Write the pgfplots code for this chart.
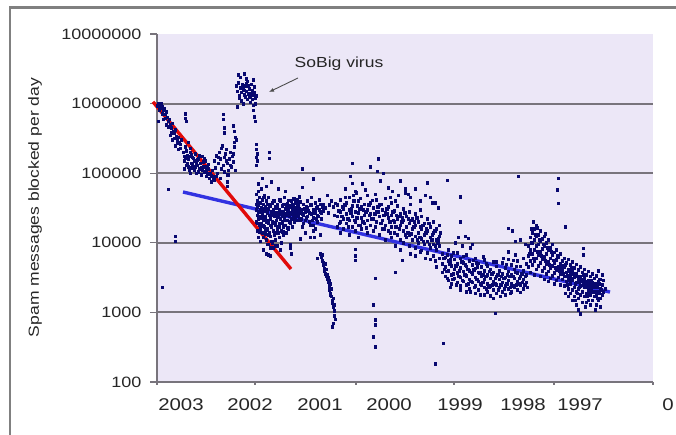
\documentclass[border=0pt]{standalone}
\usepackage{pgfplots}
\pgfplotsset{compat=1.18}
\usetikzlibrary{arrows.meta}
\usepackage{fontspec}
\setmainfont{Liberation Sans}[FakeStretch=1.2]
\definecolor{bgcol}{RGB}{236,231,247}
\definecolor{dotcol}{RGB}{8,8,112}
\definecolor{gridcol}{RGB}{120,116,124}
\definecolor{redline}{RGB}{225,10,10}
\definecolor{blueline}{RGB}{50,50,225}
\begin{document}
\begin{tikzpicture}[x=1pt,y=1pt]
\useasboundingbox (0,0) rectangle (676,434);
\draw[gray, line width=2.2pt] (10,-10) -- (10,426.5) -- (690,426.5);
\begin{axis}[
  at={(157pt,52pt)}, anchor=south west,
  scale only axis, width=496pt, height=348pt,
  clip=false,
  xmin=157, xmax=653,
  ymode=log, ymin=100, ymax=10000000,
  axis background/.style={fill=bgcol},
  axis x line*=bottom, axis y line*=left,
  axis line style={gridcol, line width=1.6pt},
  xtick=\empty,
  extra x ticks={157,255,356,454,554,653}, extra x tick labels={},
  extra x tick style={major tick length=3pt, tick style={gridcol, line width=1.2pt}},
  ytick={100,1000,10000,100000,1000000,10000000},
  yticklabels={100,1000,10000,100000,1000000,10000000},
  y tick style={gridcol, line width=1.2pt},
  major tick length=7pt,
  tick align=outside,
  yminorticks=false, xminorticks=false,
  extra y ticks={1000,10000,100000,1000000},
  extra y tick labels={},
  extra y tick style={grid=major, major tick length=0pt, major grid style={gridcol, line width=2pt}},
  yticklabel style={font=\fontsize{15}{15}\selectfont, text=black!85, xshift=-5pt},
  /pgf/number format/assume math mode=true,
]
% --- scatter data (x: position along the time axis, y: spam messages blocked per day)
\pgfplotsset{dots/.style={only marks, mark=square*, mark size=1.3pt, color=dotcol}}
\addplot[dots] coordinates {
(158,1000000) (159,950000) (160,880000) (161,1000000) (162,900000) (163,800000) (164,850000) (165,700000) (166,760000) (167,640000) (168,560000) (169,600000) (170,500000) (171,450000) (172,520000) (173,400000) (174,380000) (175,420000) (176,340000) (177,300000) (178,330000) (179,280000) (180,260000) (181,300000) (158,560000) (163,600000) (166,500000) (170,350000) (172,300000) (175,250000) (178,220000) (157,930000) (159,820000) (162,720000) (165,620000) (168,470000) (171,380000) (174,320000) (177,270000) (180,230000)
(183,200000) (184,150000) (185,240000) (186,130000) (187,180000) (188,160000) (189,110000) (190,200000) (191,140000) (192,170000) (193,120000) (194,150000) (195,190000) (196,100000) (197,130000) (198,160000) (199,115000) (200,140000) (201,95000) (202,175000) (203,125000) (204,105000) (205,150000) (206,90000) (207,120000) (208,135000) (209,85000) (210,100000) (211,75000) (212,110000) (213,80000) (186,210000) (189,175000) (192,135000) (195,125000) (198,105000) (201,120000) (204,160000) (207,100000) (185,165000) (188,125000) (191,185000) (194,110000) (197,155000) (200,118000) (203,145000) (206,112000) (209,98000) (185,720000) (185,620000) (186,560000) (188,280000) (190,230000)
(184,175000) (187,140000) (190,120000) (193,165000) (196,140000) (199,180000) (202,110000) (205,125000) (208,115000) (211,92000) (184,115000) (190,100000)
(214,150000) (215,120000) (216,180000) (217,100000) (218,140000) (219,200000) (220,160000) (221,115000) (222,250000) (223,130000) (224,170000) (225,190000) (226,220000) (227,140000) (228,110000) (229,160000) (230,200000) (231,125000) (232,175000) (233,145000) (234,240000) (235,110000) (216,90000) (220,85000) (224,105000) (228,95000) (218,170000) (221,230000) (226,150000) (230,130000) (233,190000) (223,700000) (223,600000) (224,450000) (224,380000) (233,480000) (234,400000) (235,330000) (236,300000) (234,280000) (213,90000) (214,80000) (227,95000) (227,75000) (227,65000)
(238,2600000) (240,2400000) (244,2700000) (246,2300000) (236,1800000) (237,1500000) (238,2000000) (239,1300000) (240,1700000) (241,1450000) (242,1900000) (243,1600000) (244,1350000) (245,1800000) (246,1500000) (247,2100000) (248,1400000) (249,1650000) (250,1250000) (251,1900000) (252,1550000) (253,1350000) (254,1750000) (255,1200000) (241,1100000) (243,1000000) (247,1150000) (250,1050000) (253,950000) (239,1200000) (245,1250000) (248,1800000) (251,1400000) (237,900000) (242,1700000) (244,1550000) (246,1950000) (249,1300000) (252,1150000) (254,1450000) (255,1000000) (253,2200000) (256,1300000) (253,800000) (254,650000) (255,560000)
(256,260000) (256,220000) (257,190000) (256,170000) (257,150000) (256,130000) (269,200000) (269,165000)
(168,59000) (175,12500) (175,10500) (162,2300) (268,6700)
};
\addplot[dots] coordinates {
(256,50000) (256,30000) (256,20000) (257,40000) (257,25000) (257,15000) (258,55000) (258,35000) (258,22000) (258,12000) (259,45000) (259,28000) (259,18000) (260,38000) (260,24000) (260,16000) (260,10500) (261,60000) (261,32000) (261,19000) (262,42000) (262,26000) (262,14000) (263,36000) (263,21000) (263,12000) (263,8000) (264,48000) (264,29000) (264,17000) (265,33000) (265,23000) (265,13500) (266,40000) (266,20000) (266,11000) (266,7000) (267,27000) (267,16000) (268,45000) (268,31000) (268,19000) (268,9500) (269,25000) (269,14000) (270,35000) (270,22000) (270,12500) (270,6500) (271,28000) (271,17000) (272,38000) (272,20000) (272,10000) (273,30000) (273,15000) (273,8500) (274,24000) (274,13000) (275,33000) (275,18000) (275,11000) (276,27000) (276,21000) (277,36000) (277,16000) (277,9000) (278,25000) (278,14000) (279,30000) (279,19000) (279,12000) (280,40000) (280,22000) (281,26000) (281,15000) (281,10000) (282,34000) (282,20000) (283,28000) (283,17000) (283,13000) (284,45000) (284,23000) (285,31000) (285,18000) (286,25000) (286,14000) (287,37000) (287,21000) (288,29000) (288,16000) (289,33000) (289,24000) (290,27000) (290,19000) (291,40000) (291,22000) (292,30000) (292,17000) (293,35000) (293,25000) (294,28000) (294,20000) (295,38000) (295,23000) (296,32000) (296,26000) (297,42000) (297,29000) (297,21000) (298,35000) (298,24000) (299,46000) (299,31000) (299,27000) (300,39000) (300,28000)
(256.5,36000) (257.5,19000) (258.5,28000) (259.5,14500) (260.5,30000) (261.5,23000) (262.5,17500) (263.5,45000) (264.5,24000) (265.5,15500) (266.5,30000) (267.5,21000) (268.5,13000) (269.5,34000) (270.5,18000) (271.5,10500) (272.5,26000) (273.5,40000) (274.5,19500) (275.5,14000) (276.5,32000) (277.5,23500) (278.5,17000) (279.5,42000) (280.5,28000) (281.5,19000) (282.5,14500) (283.5,36000) (284.5,26000) (285.5,21000) (286.5,33000) (287.5,16500) (288.5,41000) (289.5,20000) (290.5,34000) (291.5,26000) (292.5,22000) (293.5,43000) (294.5,31000) (295.5,27000) (296.5,37000) (297.5,24500) (298.5,30000) (299.5,21500) (257,33000) (262,31000) (267,36000) (272,25000) (277,27000) (282,24000) (287,27000) (292,36000) (297,33000)
(258,70000) (262,85000) (266,65000) (271,75000) (278,60000) (285,55000) (302,115000) (302,63000) (313,83000)
(267,9500) (270,8500) (275,9000) (280,8000) (290,9500) (290,8500) (291,7000)
(301,30000) (301,22000) (303,36000) (303,25000) (303,19000) (305,28000) (305,21000) (305,14000) (307,40000) (307,32000) (307,24000) (309,27000) (309,20000) (310,12000) (311,45000) (311,35000) (311,26000) (313,30000) (313,23000) (313,18000) (313,15000) (314,12000) (315,38000) (315,28000) (315,16000) (317,33000) (317,25000) (317,20000) (319,42000) (319,30000) (320,13000) (321,27000) (321,22000) (323,36000) (323,29000) (300,11500)
(302,26000) (304,31000) (306,23000) (308,29000) (310,35000) (312,21000) (314,27000) (316,32000) (318,24000) (320,28000) (322,33000) (302,17000) (306,33000) (310,18000) (316,22000) (320,36000)
(325,32000) (327,48000) (329,35000) (331,40000) (333,33000) (335,37000) (328,27000) (334,25000)
(320,7000) (321,6200) (322,5500) (322,6800) (323,4800) (323,5200) (324,4300) (324,3900) (325,5000) (325,3600) (326,3300) (327,3000) (326,4200) (328,2700) (328,3200) (329,2400) (329,2100) (330,2600) (330,1900) (331,1700) (331,2200) (332,1500) (332,1350) (333,1200) (333,1600) (334,1050) (334,900) (335,800) (333,700) (332,620) (334,1300) (330,1800) (327,3500) (329,2900) (317,6000)
(355,8100) (355,6500) (355,5600) (375,3100) (373,1280) (375,780) (375,660) (373,445) (375,320) (395,3800) (402,5600) (435,5500) (436,4500)
};
\addplot[dots] coordinates {
(337,35000) (337,24000) (337,17000) (340,42000) (340,28000) (340,20000) (340,14000) (343,31000) (343,22000) (343,16000) (346,38000) (346,26000) (346,19000) (349,45000) (349,30000) (349,21000) (349,13000) (352,34000) (352,24000) (352,17000) (355,28000) (355,20000) (355,15000) (358,40000) (358,27000) (358,18000) (358,12000) (361,33000) (361,23000) (361,16000) (364,36000) (364,25000) (364,19000) (367,48000) (367,30000) (367,21000) (367,14000) (370,38000) (370,26000) (370,18000) (373,32000) (373,22000) (373,15000) (376,42000) (376,28000) (376,20000) (379,35000) (379,24000) (379,13000) (382,30000) (382,21000) (382,16000) (385,44000) (385,27000) (385,18000) (385,11000) (388,33000) (388,23000) (388,15000) (391,38000) (391,25000) (391,17000) (391,12000) (394,29000) (394,20000) (394,14000) (397,34000) (397,22000) (397,13000) (400,26000) (400,18000) (400,11000) (403,31000) (403,21000) (403,15000) (403,10000) (406,24000) (406,17000) (406,12000) (409,28000) (409,19000) (409,13000) (409,9000) (412,22000) (412,16000) (412,11000) (415,26000) (415,18000) (415,12500) (415,8500) (418,20000) (418,14000) (418,10000) (421,24000) (421,16000) (421,11500) (421,7800) (424,19000) (424,13000) (424,9500) (427,22000) (427,15000) (427,10500) (427,7200) (430,17000) (430,12000) (430,8500) (433,20000) (433,14000) (433,9500) (433,6500) (436,16000) (436,11000) (436,8000) (439,18000) (439,12500) (439,9000) (439,6000)
(338.5,29000) (341.5,24000) (344.5,35000) (347.5,22000) (350.5,27000) (353.5,40000) (356.5,23000) (359.5,31000) (362.5,20000) (365.5,28000) (368.5,35000) (371.5,22000) (374.5,26000) (377.5,33000) (380.5,19000) (383.5,25000) (386.5,31000) (389.5,20000) (392.5,28000) (395.5,17000) (398.5,24000) (401.5,20000) (404.5,27000) (407.5,14000) (410.5,21000) (413.5,17000) (416.5,23000) (419.5,12000) (422.5,18000) (425.5,14000) (428.5,19000) (431.5,11000) (434.5,15000) (437.5,10000) (440,14000) (345,45000) (360,44000) (375,50000) (390,45000) (395,40000) (410,36000) (420,30000)
(339,19000) (342,33000) (348,17000) (351,31000) (354,21000) (357,34000) (360,18000) (363,30000) (366,16500) (369,25000) (372,41000) (375,17000) (378,28000) (381,36000) (384,16000) (387,26000) (390,14000) (393,21000) (396,25000) (399,16000) (402,23000) (405,13000) (408,22000) (411,13500) (414,20000) (417,11000) (420,17000) (423,10500) (426,16000) (429,9500) (432,13000) (435,9000) (438,11500)
(352,140000) (378,160000) (370,123000) (350,91000) (377,107000) (383,100000) (380,78000) (427,73000) (447,79000) (518,91000) (558,85000) (557,58000) (558,37000)
(345,60000) (356,52000) (362,70000) (365,58000) (388,62000) (392,55000) (398,48000) (405,52000) (410,45000) (415,60000) (420,40000) (425,48000) (432,38000) (352,72000) (355,55000) (353,48000) (400,78000) (405,60000) (408,50000) (430,45000) (435,38000) (438,32000) (460,46000)
(395,9000) (400,8000) (410,7000) (415,6500) (420,7500) (425,6000) (430,5800)
};
\addplot[dots] coordinates {
(442,7000) (442,5000) (442,3800) (445,6200) (445,4500) (445,3300) (448,8000) (448,5500) (448,4000) (448,2900) (451,6500) (451,4700) (451,3500) (451,2600) (454,5800) (454,4200) (454,3100) (457,7200) (457,5000) (457,3700) (457,2700) (460,6000) (460,4400) (460,3200) (460,2400) (463,5200) (463,3900) (463,2800) (466,6800) (466,4600) (466,3400) (466,2500) (466,2000) (469,5500) (469,4000) (469,3000) (469,2200) (472,4800) (472,3600) (472,2700) (475,6000) (475,4300) (475,3200) (475,2400) (475,1900) (478,5100) (478,3800) (478,2800) (478,2100) (481,4500) (481,3400) (481,2500) (484,5700) (484,4000) (484,3000) (484,2300) (484,1800) (487,4700) (487,3500) (487,2600) (487,2000) (490,4200) (490,3100) (490,2400) (493,5400) (493,3800) (493,2800) (493,2100) (493,1600) (496,4600) (496,3300) (496,2500) (496,1900) (499,4000) (499,3000) (499,2300) (502,5200) (502,3600) (502,2700) (502,2000) (505,4400) (505,3200) (505,2400) (505,1800) (508,5800) (508,3900) (508,2900) (508,2200) (511,4800) (511,3500) (511,2600) (511,2000) (514,4200) (514,3100) (514,2300) (517,5500) (517,3700) (517,2800) (517,2100) (520,4600) (520,3300) (520,2500) (523,6000) (523,4000) (523,3000) (523,2200) (526,5000) (526,3500) (526,2700)
(443.5,6000) (446.5,3900) (449.5,5000) (452.5,3000) (455.5,4700) (458.5,3300) (461.5,5400) (464.5,3500) (467.5,4200) (470.5,2800) (473.5,4100) (476.5,3000) (479.5,3700) (482.5,2700) (485.5,3300) (488.5,2300) (491.5,3600) (494.5,2600) (497.5,3500) (500.5,2500) (503.5,3100) (506.5,2600) (509.5,3300) (512.5,2400) (515.5,3800) (518.5,2600) (521.5,3600) (524.5,2500) (470,2000) (480,1800) (490,1750) (500,1700) (510,1900) (520,1950) (460,2100) (450,2300) (476,5200) (486,5000) (496,5400) (506,4900) (516,4600)
(444,4200) (447,3100) (450,5700) (453,3600) (456,2500) (459,4000) (462,2900) (465,4800) (468,2600) (471,3800) (474,2300) (477,4500) (480,2600) (483,3500) (486,2200) (489,3900) (492,2500) (495,3100) (498,2100) (501,3300) (504,2200) (507,3500) (510,2300) (513,3300) (516,2500) (519,3100) (522,2700) (525,3300) (527,2300) (447,6800) (453,7200) (463,6400) (473,5600) (483,6300) (503,6000) (513,5600)
(460,20000) (458,12000) (468,11700) (508,16300) (495,980) (443,360) (435,185) (455,10000) (462,9000) (470,8500) (465,12500) (472,9500) (508,7500) (515,6800) (520,11000) (525,9500) (512,15000) (515,10500)
};
\addplot[dots] coordinates {
(528,9000) (528,6500) (528,4500) (530,12000) (530,8000) (530,5500) (530,3800) (532,14000) (532,10000) (532,7000) (532,4800) (534,16000) (534,11000) (534,8000) (534,5500) (534,3500) (536,18000) (536,12500) (536,9000) (536,6000) (536,4200) (538,13000) (538,9500) (538,6800) (538,4700) (540,15000) (540,10500) (540,7500) (540,5200) (540,3300) (542,11500) (542,8200) (542,5800) (542,4000) (544,12500) (544,9000) (544,6300) (544,4400) (544,3000) (546,10000) (546,7000) (546,5000) (546,3600) (548,11000) (548,7800) (548,5400) (548,3900) (548,2800) (550,8500) (550,6000) (550,4300) (550,3100) (552,9500) (552,6600) (552,4700) (552,3400) (554,7300) (554,5200) (554,3700) (554,2600) (556,8000) (556,5700) (556,4100) (556,2900) (558,6200) (558,4500) (558,3200) (560,7000) (560,5000) (560,3600) (560,2500)
(529,7000) (531,10000) (533,6000) (535,13000) (537,7500) (539,11000) (541,6500) (543,9500) (545,5500) (547,8500) (549,4800) (551,7500) (553,5600) (555,4400) (557,6500) (559,4000) (561,4500) (563,3600) (565,4800) (567,3400) (569,4000) (571,3100) (573,3600) (575,2600) (577,3300) (579,2700) (581,3000) (583,2500) (585,2800) (587,2300) (589,2600) (591,2100) (593,2400) (595,2000) (597,2300) (599,1900) (601,2100) (603,2900) (533,20000) (531,16000) (545,13500) (565,1900) (575,1500) (585,1200) (595,1100) (605,2200)
(537,16500) (565,17000) (583,8400) (583,6700)
(562,5500) (562,4000) (562,3000) (564,6000) (564,4500) (564,3300) (564,2400) (566,5200) (566,3800) (566,2800) (568,5800) (568,4200) (568,3100) (568,2200) (568,1700) (570,4800) (570,3500) (570,2600) (570,1900) (572,5300) (572,3900) (572,2900) (572,2100) (572,1500) (574,4400) (574,3200) (574,2300) (574,1700) (576,4900) (576,3600) (576,2700) (576,2000) (576,1300) (578,4100) (578,3000) (578,2200) (578,1600) (578,1100) (580,4500) (580,3300) (580,2400) (580,1800) (580,950) (582,3800) (582,2800) (582,2000) (582,1400) (584,4200) (584,3100) (584,2300) (584,1700) (586,3500) (586,2600) (586,1900) (586,1400) (588,3900) (588,2900) (588,2100) (588,1500) (590,3300) (590,2400) (590,1800) (590,1300) (592,3600) (592,2700) (592,2000) (592,1500) (594,3100) (594,2300) (594,1700) (596,3400) (596,2500) (596,1800) (596,1300) (598,4000) (598,2800) (598,2000) (598,1500) (600,3000) (600,2200) (600,1600) (600,1200) (602,3500) (602,2500) (602,1800) (599,3000)
(563,4700) (567,2500) (571,4400) (575,3400) (579,2300) (583,3500) (587,1700) (591,2900) (595,2600) (599,2600) (603,2000) (569,2900) (577,1900) (589,1900) (597,1600)
};
% trend lines
\addplot[blueline, line width=3.4pt] coordinates {(183,53700) (610,1960)};
\addplot[redline, line width=3.4pt] coordinates {(153,1060000) (291,4200)};
\end{axis}
% axis title and year labels
\node[rotate=90, font=\fontsize{14.6}{14.6}\selectfont, text=black!85] at (35,226.5) {Spam messages blocked per day};
\begin{scope}[every node/.style={font=\fontsize{17}{17}\selectfont, text=black!85}]
\node at (181,29) {2003};
\node at (250,29) {2002};
\node at (320,29) {2001};
\node at (389,29) {2000};
\node at (460,29) {1999};
\node at (523,29) {1998};
\node at (580,29) {1997};
\node at (668,29) {0};
\end{scope}
\node[font=\fontsize{14.6}{14.6}\selectfont, text=black!85] at (339,370) {SoBig virus};
\draw[gray!60!black, line width=0.9pt, -{Latex[length=5pt,width=4pt]}] (298,356) -- (269,342);
\end{tikzpicture}
\end{document}
